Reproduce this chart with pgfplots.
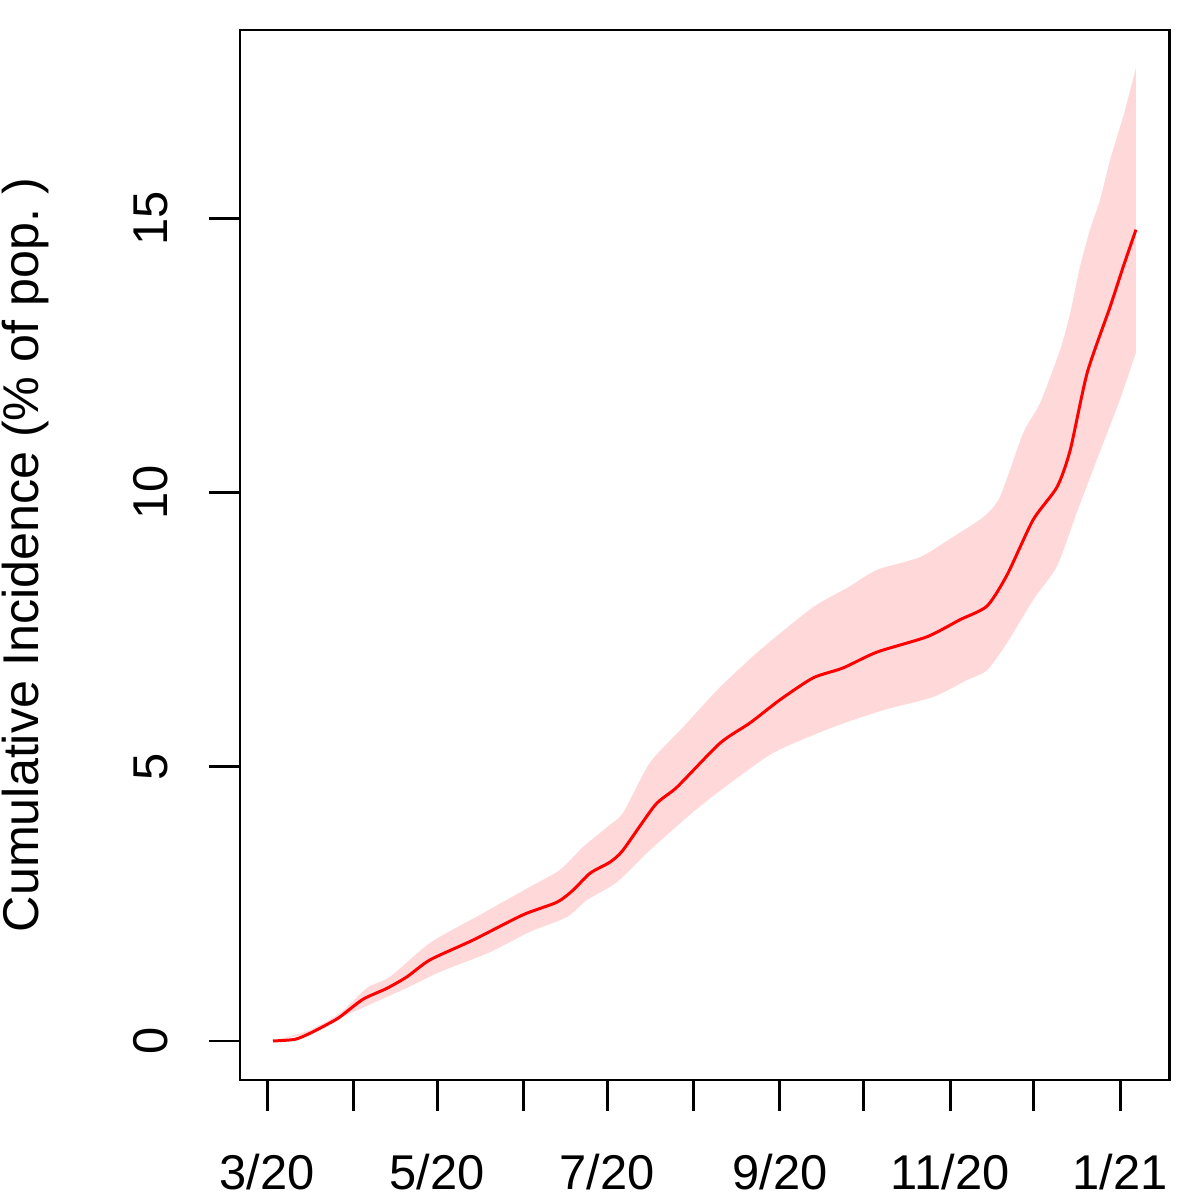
\documentclass[border=0pt]{standalone}
\usepackage{pgfplots}
\pgfplotsset{compat=1.18}
\usepgfplotslibrary{fillbetween}
\usepackage{fontspec}
\setmainfont{Liberation Sans}
\definecolor{band}{RGB}{255,217,217}
\begin{document}
\fontsize{13.9}{16}\selectfont
\begin{tikzpicture}
\begin{axis}[
  at={(0,0)}, anchor=south west,
  scale only axis, width=9.3cm, height=10.5cm,
  xmin=-9.69, xmax=323.9, ymin=-0.711, ymax=18.43,
  axis line style={line width=0.85pt},
  tick style={line width=0.85pt, black},
  major tick length=0.31cm,
  tick align=outside, tick pos=left,
  xtick={0,31,61,92,122,153,184,214,245,275,306},
  xticklabels={3/20,,5/20,,7/20,,9/20,,11/20,,1/21},
  ytick={0,5,10,15},
  yticklabels={0,5,10,15},
  yticklabel style={rotate=90, anchor=base, inner sep=0pt},
  xticklabel style={anchor=north, inner sep=0pt},
  xticklabel shift=0.42cm,
  yticklabel shift=0.41cm,
  every axis y label/.style={at={(axis description cs:-0.2172,0.5)}, anchor=base, rotate=90, font=\fontsize{14.3}{16}\selectfont},
  ylabel={Cumulative Incidence (\% of pop.\ )},
]
\addplot[name path=up, draw=none, smooth, tension=0.4] coordinates {
(2.15,0.00) (15.4,0.20) (26.2,0.51) (35.9,0.97) (44.1,1.17) (58.5,1.79)
(76.4,2.30) (94.3,2.81) (105.1,3.12) (113.4,3.54) (122.0,3.90) (127.7,4.16)
(137.3,5.07) (149.2,5.72) (162.5,6.45) (176.9,7.13) (195.9,7.91) (208.1,8.26)
(218.8,8.59) (234.2,8.82) (246.1,9.19) (256.9,9.55) (262.9,9.92) (271.2,11.08)
(277.3,11.63) (284.5,12.60) (288.1,13.27) (291.6,14.11) (295.2,14.79)
(298.8,15.33) (302.4,16.06) (307.1,16.85) (311.7,17.74)
};
\addplot[name path=lo, draw=none, smooth, tension=0.4] coordinates {
(2.15,0.00) (15.4,0.15) (26.2,0.42) (38.0,0.69) (50.2,0.97) (62.1,1.26)
(80.0,1.62) (94.3,1.99) (107.6,2.26) (114.8,2.57) (125.6,2.90) (137.4,3.48)
(150.7,4.08) (161.4,4.52) (181.5,5.25) (203.0,5.72) (221.0,6.03) (238.9,6.27)
(251.1,6.58) (258.3,6.76) (265.5,7.26) (274.8,8.04) (283.4,8.66) (290.6,9.65)
(297.7,10.6) (306.0,11.7) (311.7,12.55)
};
\addplot[fill=band, draw=none] fill between[of=up and lo];
\addplot[red, line width=0.85pt, smooth, tension=0.4] coordinates {
(2.15,0.00) (10.0,0.03) (15.4,0.14) (22.6,0.33) (26.2,0.44) (34.4,0.76)
(43.0,0.96) (50.2,1.17) (58.5,1.48) (73.9,1.84) (91.8,2.30) (104.0,2.53)
(109.8,2.75) (115.9,3.06) (123.0,3.26) (127.7,3.48) (139.2,4.30) (147.1,4.63)
(162.5,5.43) (173.3,5.80) (184.0,6.22) (195.9,6.62) (206.6,6.80) (218.8,7.09)
(236.8,7.37) (248.6,7.68) (258.3,7.93) (265.5,8.50) (274.8,9.50) (283.4,10.10)
(288.1,10.77) (294.2,12.18) (302.4,13.38) (307.1,14.11) (311.7,14.79)
};
\end{axis}
\pgfresetboundingbox
\useasboundingbox (-2.4cm,-1.2cm) rectangle (9.6cm,10.8cm);
\end{tikzpicture}
\end{document}
